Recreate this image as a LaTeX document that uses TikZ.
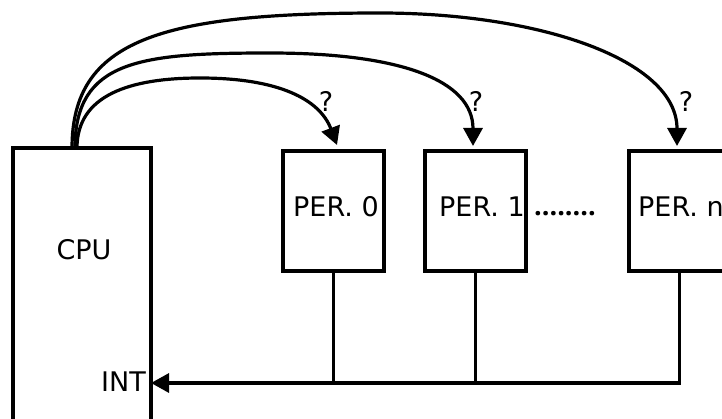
\documentclass[tikz,border=0pt]{standalone}
\usepackage{fontspec}
\setmainfont{DejaVu Sans}
\newfontfamily\dotfont{Open Sans}
\usetikzlibrary{arrows.meta}
\begin{document}
\begin{tikzpicture}[x=1pt,y=1pt,
  wire/.style={line width=3.2pt},
  tip/.style={-{Triangle[length=18pt,width=19pt]}},
  unit/.style={draw,line width=3.2pt,minimum width=101pt,minimum height=120pt,inner sep=0pt,outer sep=0pt},
  lbl/.style={inner sep=0pt,font=\fontsize{27}{30}\selectfont}]
\useasboundingbox (0,0) rectangle (722,418);
\clip (0,0) rectangle (722,418);
% boxes
\node[unit,minimum width=138pt,minimum height=290pt] (cpu) at (82,125) {};
\node[unit] (per0) at (333.5,207) {};
\node[unit] (per1) at (475.5,207) {};
\node[unit] (pern) at (679.5,207) {};
% labels
\node[lbl] (tcpu) at (84,168) {CPU};
\node[lbl,anchor=east] (tint) at (146,36) {INT};
\node[lbl,anchor=base west] (t0) at (293,201) {PER. 0};
\node[lbl,anchor=base west] (t1) at (439,201) {PER. 1};
\node[lbl,anchor=base west] (tn) at (638,201) {PER. n};
\node[lbl,anchor=base west] (dots) at (534,202) {\dotfont\bfseries ........};
\node[lbl] (q0) at (326,317) {?};
\node[lbl] (q1) at (476,317) {?};
\node[lbl] (qn) at (686,317) {?};
% curve endpoints
\coordinate (s0) at (77,270);
\coordinate (s1) at (75,270);
\coordinate (s2) at (72,270);
\coordinate (e0) at (337,273);
\coordinate (e1) at (473,272);
\coordinate (e2) at (677,272);
\draw[wire,tip] (s0) .. controls (77,323) and (130,340) .. (200,340)
   .. controls (280,340) and (320,318) .. (e0);
\draw[wire,tip] (s1) .. controls (75,358) and (140,365) .. (270,365)
   .. controls (400,365) and (473,338) .. (e1);
\draw[wire,tip] (s2) .. controls (72,378) and (160,405) .. (380,405)
   .. controls (540,405) and (677,358) .. (e2);
% interrupt bus
\coordinate (bus) at (0,35);
\draw[wire] (per0.south) -- (per0.south |- bus);
\draw[wire] (per1.south) -- (per1.south |- bus);
\draw[wire,tip] (pern.south) |- (cpu.east |- bus);
\end{tikzpicture}
\end{document}
